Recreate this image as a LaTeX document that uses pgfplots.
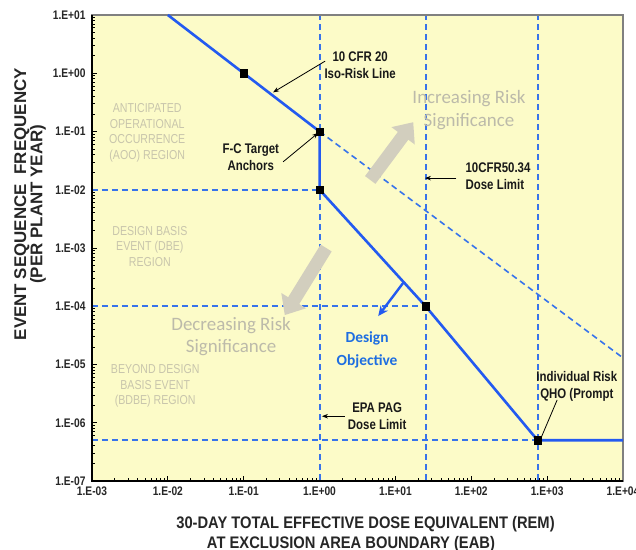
\documentclass[border=0pt]{standalone}
\usepackage{fontspec}
\setmainfont{Liberation Sans}
\newfontfamily\nar[FakeStretch=0.82]{Liberation Sans}
\newfontfamily\narx[FakeStretch=0.88]{Liberation Sans}
\newfontfamily\carl{Carlito}
\usepackage{pgfplots}
\pgfplotsset{compat=1.18}
\usetikzlibrary{arrows.meta,calc}
\definecolor{bgy}{RGB}{252,251,200}
\definecolor{mblue}{RGB}{35,90,240}
\definecolor{dblue}{RGB}{55,115,235}
\definecolor{dobj}{RGB}{30,110,225}
\definecolor{gtxt}{RGB}{188,186,170}
\definecolor{rtxt}{RGB}{200,197,172}
\definecolor{garr}{RGB}{210,206,190}
\pgfplotsset{refline/.style={dblue, dash pattern=on 6bp off 4bp, line width=1.6bp},
  vrefline/.style={dblue, dash pattern=on 6bp off 4bp, line width=2bp}}
\begin{document}
\begin{tikzpicture}
\begin{axis}[
  scale only axis, width=531bp, height=466bp,
  xmode=log, ymode=log, xmin=1e-3, xmax=1e4, ymin=1e-7, ymax=10,
  axis background/.style={fill=bgy},
  axis line style={draw=gray, line width=1.3bp},
  xtick={1e-3,1e-2,1e-1,1,1e1,1e2,1e3,1e4},
  xticklabels={1.E-03,1.E-02,1.E-01,1.E+00,1.E+01,1.E+02,1.E+03,1.E+04},
  ytick={1e-7,1e-6,1e-5,1e-4,1e-3,1e-2,1e-1,1,10},
  yticklabels={1.E-07,1.E-06,1.E-05,1.E-04,1.E-03,1.E-02,1.E-01,1.E+00,1.E+01},
  tick pos=left, tick align=inside,
  major tick length=5bp, minor tick length=3bp,
  major tick style={black, line width=0.9bp},
  minor tick style={black, line width=0.9bp},
  ticklabel style={font=\nar\bfseries\fontsize{12.5}{14}\selectfont, text=black!85},
  xticklabel style={yshift=-2bp},
  yticklabel style={xshift=-3bp},
  clip=false,
]
\coordinate (ll) at (rel axis cs:0,0);
\coordinate (ur) at (rel axis cs:1,1);
% dashed reference lines
\addplot[refline] coordinates {(1e-3,1e-4) (25,1e-4)};
\addplot[refline] coordinates {(1e-3,5e-7) (750,5e-7)};
\addplot[refline] coordinates {(1,0.1) (1e4,1.3e-5)};
\addplot[refline] coordinates {(1e-3,1e-2) (1,1e-2)};
\addplot[vrefline] coordinates {(1,1.05e-7) (1,9.6)};
\addplot[vrefline] coordinates {(25,1.05e-7) (25,9.6)};
\addplot[vrefline] coordinates {(750,1.05e-7) (750,9.6)};
% gray arrows
\draw[garr, line width=13bp, -{Triangle[width=28bp,length=17bp]}]
  (rel axis cs:0.524,0.646) -- (rel axis cs:0.605,0.770);
\draw[garr, line width=13bp, -{Triangle[width=28bp,length=17bp]}]
  (rel axis cs:0.441,0.500) -- (rel axis cs:0.363,0.356);
% main F-C line
\addplot[mblue, line width=2.6bp] coordinates {(0.01,10) (0.1,1) (1,0.1) (1,0.01) (25,1e-4) (750,5e-7) (1e4,5e-7)};
\addplot[only marks, mark=square*, mark size=3.6bp, black] coordinates {(0.1,1) (1,0.1) (1,0.01) (25,1e-4) (750,5e-7)};
% design objective arrow
\draw[mblue, line width=2.4bp, -{Stealth[length=10bp,width=9bp]}]
  (rel axis cs:0.586,0.425) -- (rel axis cs:0.539,0.354);
% region labels
\begin{scope}[every node/.style={text=rtxt, align=center, font=\nar\fontsize{13}{15.5}\selectfont}]
\node at (rel axis cs:0.104,0.747) {ANTICIPATED\\OPERATIONAL\\OCCURRENCE\\(AOO) REGION};
\node at (rel axis cs:0.109,0.504) {DESIGN BASIS\\EVENT (DBE)\\REGION};
\node at (rel axis cs:0.119,0.204) {BEYOND DESIGN\\BASIS EVENT\\(BDBE) REGION};
\end{scope}
% gray big texts
\node[text=gtxt, align=center, font=\carl\fontsize{19}{23}\selectfont] at (rel axis cs:0.710,0.796) {Increasing Risk\\Significance};
\node[text=gtxt, align=center, font=\carl\fontsize{19}{22}\selectfont] at (rel axis cs:0.262,0.309) {Decreasing Risk\\Significance};
\node[text=dobj, align=center, font=\carl\bfseries\fontsize{15.5}{23}\selectfont] at (rel axis cs:0.518,0.281) {Design\\Objective};
% annotations
\begin{scope}[every node/.style={align=center, font=\nar\bfseries\fontsize{14}{17}\selectfont, text=black!90}]
\node at (rel axis cs:0.505,0.893) {10 CFR 20\\Iso-Risk Line};
\node at (rel axis cs:0.299,0.695) {F-C Target\\Anchors};
\node[anchor=west, align=left] at (rel axis cs:0.697,0.654) {10CFR50.34\\Dose Limit};
\node at (rel axis cs:0.537,0.139) {EPA PAG\\Dose Limit};
\node at (rel axis cs:0.913,0.204) {Individual Risk\\QHO (Prompt};
\end{scope}
\begin{scope}[black, line width=0.8bp]
\draw[-{Stealth[length=6bp,width=4.5bp]}] (rel axis cs:0.439,0.901) -- (rel axis cs:0.341,0.834);
\draw[-{Stealth[length=6bp,width=4.5bp]}] (rel axis cs:0.360,0.685) -- (rel axis cs:0.426,0.747);
\draw[-{Stealth[length=6bp,width=4.5bp]}] (rel axis cs:0.686,0.650) -- (rel axis cs:0.627,0.650);
\draw[-{Stealth[length=6bp,width=4.5bp]}] (rel axis cs:0.476,0.139) -- (rel axis cs:0.433,0.139);
\draw (rel axis cs:0.876,0.174) -- (rel axis cs:0.844,0.088);
\end{scope}
% black left/bottom axis lines
\draw[black, line width=1.6bp] (rel axis cs:0,1) -- (rel axis cs:0,0) -- (rel axis cs:1,0);
\end{axis}
% axis labels
\node[rotate=90, font=\bfseries\fontsize{17}{17}\selectfont, text=black!85] at ($(ll)+(-70bp,0.594*466bp)$) {EVENT SEQUENCE\ \ FREQUENCY};
\node[rotate=90, font=\bfseries\fontsize{17}{17}\selectfont, text=black!85] at ($(ll)+(-54bp,0.594*466bp)$) {(PER PLANT YEAR)};
\node[anchor=base, font=\narx\bfseries\fontsize{16.8}{18}\selectfont, text=black!85] at ($(ll)+(273.5bp,-47bp)$) {30-DAY TOTAL EFFECTIVE DOSE EQUIVALENT (REM)};
\node[anchor=base, font=\narx\bfseries\fontsize{16.8}{18}\selectfont, text=black!85] at ($(ll)+(259bp,-67bp)$) {AT EXCLUSION AREA BOUNDARY (EAB)};
\pgfresetboundingbox
\path ($(ll)+(-92bp,-69bp)$) rectangle ($(ur)+(13bp,15bp)$);
\end{tikzpicture}
\end{document}
